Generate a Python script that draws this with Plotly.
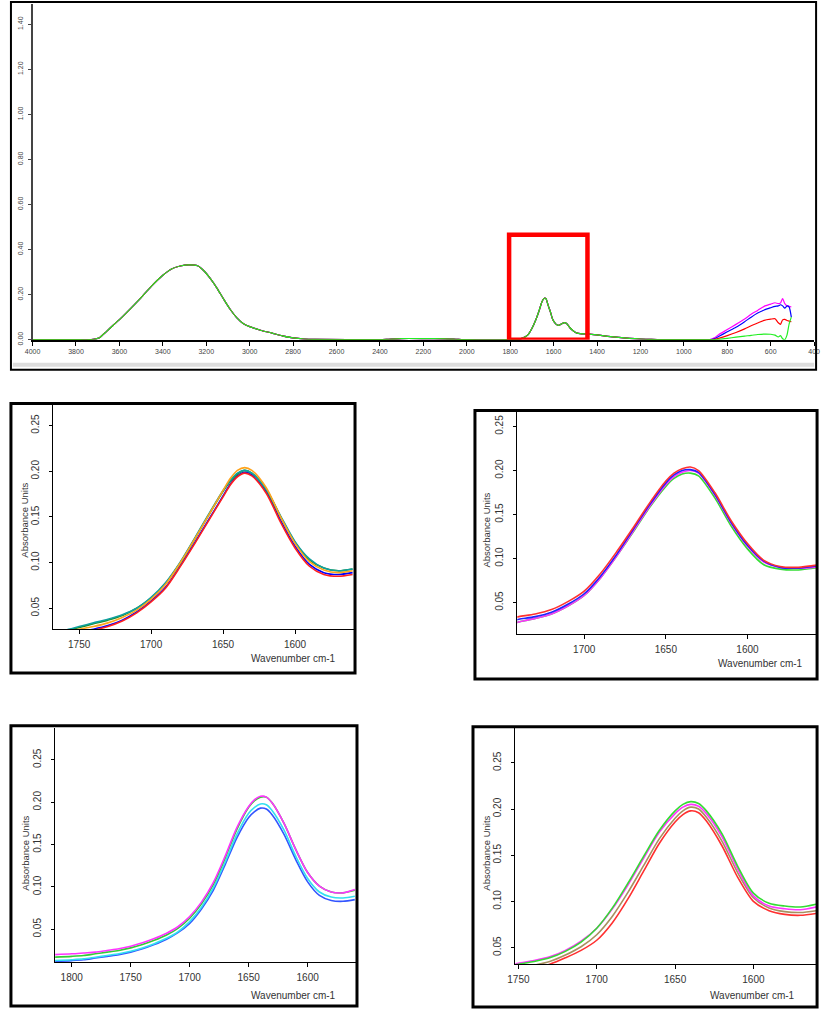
import plotly.graph_objects as go

# ---------------- Overview spectrum (top panel) ----------------
BASE_WN = [4000, 3800, 3740, 3720, 3700, 3690, 3660, 3630, 3600, 3550, 3500, 3450, 3400, 3360, 3320,
           3280, 3240, 3210, 3180, 3150, 3120, 3090, 3060, 3030, 3000, 2950, 2900, 2850, 2800,
           2750, 2700, 2400, 2360, 2300, 2200, 2100, 2050, 2000, 1800, 1760, 1740, 1720, 1700,
           1680, 1665, 1655, 1645, 1640, 1635, 1625, 1615, 1605, 1595, 1585, 1575, 1560, 1550,
           1540, 1525, 1510, 1495, 1470, 1440, 1400, 1350, 1300, 1250, 1200, 1150, 1100, 900]
BASE_ABS = [0, 0, 0.0, 0.002, 0.006, 0.010, 0.036, 0.063, 0.089, 0.137, 0.187, 0.240, 0.286, 0.314, 0.327,
            0.332, 0.328, 0.305, 0.270, 0.228, 0.180, 0.135, 0.098, 0.072, 0.058, 0.042, 0.030, 0.017, 0.008,
            0.003, 0.001, 0, 0.002, 0.005, 0.005, 0.004, 0.002, 0, 0, 0.002, 0.008, 0.020, 0.050,
            0.093, 0.134, 0.165, 0.182, 0.185, 0.182, 0.152, 0.124, 0.092, 0.076, 0.066, 0.064, 0.072, 0.076,
            0.072, 0.053, 0.040, 0.030, 0.026, 0.025, 0.021, 0.015, 0.010, 0.006, 0.003, 0.001, 0, 0]

TAIL_WN = [880, 860, 840, 800, 760, 720, 690, 660, 630, 600, 580, 565, 555, 545, 535, 525, 515, 505]
TAIL_MAGENTA = [0.0, 0.008, 0.022, 0.045, 0.068, 0.092, 0.113, 0.130, 0.148, 0.158, 0.164, 0.160, 0.163, 0.182, 0.160, 0.150, 0.148, 0.145]
TAIL_BLUE = [0.0, 0.004, 0.014, 0.035, 0.055, 0.080, 0.100, 0.118, 0.132, 0.142, 0.148, 0.150, 0.155, 0.150, 0.140, 0.150, 0.145, 0.100]
TAIL_RED = [0.0, 0.001, 0.006, 0.018, 0.032, 0.048, 0.062, 0.074, 0.086, 0.091, 0.093, 0.075, 0.068, 0.088, 0.090, 0.085, 0.082, 0.080]
TAIL_GREEN = [0.0, 0.0, 0.001, 0.006, 0.011, 0.016, 0.019, 0.023, 0.025, 0.024, 0.020, 0.012, 0.018, 0.004, 0.0, 0.020, 0.070, 0.100]

TOP_XTICKS = list(range(4000, 399, -200))
TOP_YTICKS = [0.0, 0.2, 0.4, 0.6, 0.8, 1.0, 1.2, 1.4]
BOX_WN = [1805, 1444]
BOX_ABS = [0.0, 0.466]

# ---------------- Zoomed amide I insets ----------------
W1 = [1770, 1760, 1750, 1740, 1730, 1720, 1710, 1700, 1690, 1680, 1670, 1660, 1650, 1645, 1640, 1635,
      1630, 1620, 1610, 1600, 1590, 1580, 1570, 1560]
I1_BLUE = [0.019, 0.021, 0.024, 0.027, 0.031, 0.037, 0.046, 0.058, 0.073, 0.096, 0.121, 0.147, 0.173, 0.186, 0.195, 0.199,
           0.196, 0.178, 0.146, 0.118, 0.098, 0.089, 0.087, 0.089]
I1_RED = [0.018, 0.020, 0.023, 0.026, 0.030, 0.036, 0.045, 0.057, 0.072, 0.095, 0.120, 0.146, 0.172, 0.185, 0.194, 0.198,
          0.195, 0.176, 0.144, 0.116, 0.096, 0.087, 0.085, 0.087]
I1_GREEN = [0.022, 0.025, 0.029, 0.033, 0.037, 0.042, 0.050, 0.061, 0.077, 0.099, 0.125, 0.152, 0.178, 0.189, 0.197, 0.201,
            0.198, 0.180, 0.150, 0.122, 0.103, 0.094, 0.091, 0.093]
I1_TEAL = [0.023, 0.026, 0.030, 0.034, 0.038, 0.043, 0.050, 0.062, 0.078, 0.100, 0.126, 0.153, 0.179, 0.190, 0.198, 0.201,
           0.198, 0.180, 0.151, 0.123, 0.104, 0.094, 0.091, 0.093]
I1_ORANGE = [0.020, 0.024, 0.027, 0.030, 0.034, 0.040, 0.048, 0.060, 0.076, 0.099, 0.125, 0.152, 0.179, 0.192, 0.201, 0.204,
             0.201, 0.182, 0.150, 0.121, 0.101, 0.092, 0.089, 0.091]

W2 = [1745, 1740, 1730, 1720, 1710, 1700, 1690, 1680, 1670, 1660, 1650, 1645, 1640, 1635, 1630, 1620, 1610,
      1600, 1590, 1580, 1570, 1560, 1555]
I2_RED = [0.032, 0.034, 0.037, 0.042, 0.051, 0.063, 0.083, 0.108, 0.135, 0.163, 0.188, 0.197, 0.202, 0.204, 0.200, 0.175,
          0.143, 0.117, 0.098, 0.091, 0.090, 0.092, 0.093]
I2_BLUE = [0.029, 0.031, 0.034, 0.039, 0.048, 0.060, 0.080, 0.105, 0.133, 0.161, 0.186, 0.195, 0.200, 0.201, 0.198, 0.173,
           0.141, 0.115, 0.097, 0.090, 0.089, 0.091, 0.092]
I2_MAGENTA = [0.026, 0.028, 0.032, 0.037, 0.046, 0.058, 0.078, 0.103, 0.131, 0.159, 0.184, 0.193, 0.198, 0.200, 0.197, 0.172,
              0.140, 0.114, 0.096, 0.090, 0.089, 0.090, 0.091]
I2_GREEN = [0.026, 0.028, 0.032, 0.037, 0.046, 0.058, 0.078, 0.103, 0.130, 0.158, 0.182, 0.191, 0.196, 0.197, 0.194, 0.169,
            0.137, 0.111, 0.093, 0.088, 0.087, 0.089, 0.090]

W3 = [1815, 1800, 1790, 1780, 1770, 1760, 1750, 1740, 1730, 1720, 1710, 1700, 1690, 1680, 1670, 1660, 1650,
      1645, 1640, 1635, 1630, 1620, 1610, 1600, 1590, 1580, 1570, 1560]
I3_MAGENTA = [0.020, 0.021, 0.022, 0.023, 0.025, 0.027, 0.030, 0.034, 0.039, 0.045, 0.053, 0.065, 0.082, 0.105, 0.136, 0.170,
              0.195, 0.203, 0.207, 0.206, 0.199, 0.175, 0.144, 0.117, 0.101, 0.094, 0.093, 0.097]
I3_GREEN = [0.017, 0.018, 0.019, 0.021, 0.023, 0.025, 0.028, 0.032, 0.037, 0.043, 0.051, 0.063, 0.080, 0.103, 0.134, 0.168,
            0.194, 0.202, 0.206, 0.206, 0.199, 0.175, 0.144, 0.117, 0.101, 0.094, 0.093, 0.096]
I3_CYAN = [0.013, 0.014, 0.015, 0.017, 0.019, 0.021, 0.024, 0.028, 0.033, 0.039, 0.047, 0.059, 0.076, 0.099, 0.129, 0.162,
           0.187, 0.194, 0.198, 0.197, 0.190, 0.167, 0.136, 0.110, 0.094, 0.088, 0.087, 0.089]
I3_BLUE = [0.012, 0.013, 0.014, 0.016, 0.018, 0.020, 0.023, 0.027, 0.032, 0.038, 0.046, 0.057, 0.074, 0.096, 0.126, 0.158,
           0.182, 0.189, 0.193, 0.192, 0.185, 0.162, 0.132, 0.106, 0.090, 0.084, 0.083, 0.085]

W4 = [1755, 1750, 1740, 1730, 1720, 1710, 1700, 1690, 1680, 1670, 1660, 1650, 1645, 1640, 1635, 1630, 1620,
      1610, 1600, 1590, 1580, 1570, 1560]
I4_GREEN = [0.030, 0.032, 0.035, 0.039, 0.046, 0.056, 0.071, 0.093, 0.120, 0.149, 0.177, 0.198, 0.205, 0.208, 0.206, 0.198,
            0.173, 0.138, 0.109, 0.098, 0.095, 0.094, 0.097]
I4_MAGENTA = [0.031, 0.033, 0.036, 0.040, 0.047, 0.057, 0.071, 0.092, 0.118, 0.147, 0.175, 0.195, 0.202, 0.205, 0.203, 0.195,
              0.170, 0.135, 0.106, 0.095, 0.092, 0.091, 0.094]
I4_OLIVE = [0.026, 0.028, 0.031, 0.035, 0.042, 0.051, 0.064, 0.084, 0.110, 0.139, 0.168, 0.190, 0.198, 0.202, 0.200, 0.191,
            0.165, 0.131, 0.104, 0.093, 0.089, 0.088, 0.090]
I4_RED = [0.022, 0.024, 0.027, 0.032, 0.039, 0.047, 0.058, 0.077, 0.103, 0.133, 0.163, 0.186, 0.194, 0.198, 0.196, 0.187,
          0.160, 0.126, 0.100, 0.090, 0.086, 0.085, 0.087]

INSET_YTICKS = [0.05, 0.10, 0.15, 0.20, 0.25]
I1_XTICKS = [1750, 1700, 1650, 1600]
I2_XTICKS = [1700, 1650, 1600]
I3_XTICKS = [1800, 1750, 1700, 1650, 1600]
I4_XTICKS = [1750, 1700, 1650, 1600]

X_TITLE = "Wavenumber cm-1"
Y_TITLE = "Absorbance Units"

# ---------------- Figure ----------------
W, H = 827, 1018


def px(x):
    return x / W


def py(y):
    return 1 - y / H


fig = go.Figure()

# top overview traces
tops = [("#FF00FF", TAIL_MAGENTA), ("#0000FF", TAIL_BLUE), ("#FF0000", TAIL_RED), ("#22EE22", TAIL_GREEN)]
for col, tail in tops:
    fig.add_trace(go.Scatter(x=BASE_WN + TAIL_WN, y=BASE_ABS + tail, mode="lines",
                             line=dict(color=col, width=1.2, shape="spline", smoothing=0.6),
                             xaxis="x", yaxis="y", showlegend=False, hoverinfo="skip"))

insets = [
    ("2", W1, [("#0000FF", I1_BLUE), ("#FF2020", I1_RED), ("#1E8C1E", I1_GREEN), ("#10A0A0", I1_TEAL), ("#FFA31A", I1_ORANGE)]),
    ("3", W2, [("#33DD33", I2_GREEN), ("#FF33FF", I2_MAGENTA), ("#2020FF", I2_BLUE), ("#FF3030", I2_RED)]),
    ("4", W3, [("#3355FF", I3_BLUE), ("#33E0F0", I3_CYAN), ("#33CC33", I3_GREEN), ("#FF33FF", I3_MAGENTA)]),
    ("5", W4, [("#FF3030", I4_RED), ("#A89060", I4_OLIVE), ("#FF33FF", I4_MAGENTA), ("#33DD33", I4_GREEN)]),
]
for k, wn, series in insets:
    for col, vals in series:
        fig.add_trace(go.Scatter(x=wn, y=vals, mode="lines",
                                 line=dict(color=col, width=1.6, shape="spline", smoothing=0.8),
                                 xaxis="x" + k, yaxis="y" + k, showlegend=False, hoverinfo="skip"))

tickfont_small = dict(family="Arial", size=7, color="#444")
layout = dict(
    width=W, height=H, margin=dict(l=0, r=0, t=0, b=0),
    paper_bgcolor="white", plot_bgcolor="white",
    xaxis=dict(domain=[px(25), px(820)], range=[4000, 400], tickvals=TOP_XTICKS,
               ticktext=[str(v) for v in TOP_XTICKS], showline=True, linecolor="black", linewidth=2,
               ticks="outside", ticklen=4, tickcolor="black", tickfont=tickfont_small,
               showgrid=False, zeroline=False, anchor="y"),
    yaxis=dict(domain=[py(341.7), py(4)], range=[0, 1.49], tickvals=TOP_YTICKS,
               ticktext=["%.2f" % v for v in TOP_YTICKS], showline=True, linecolor="#444", linewidth=1.5,
               ticks="outside", ticklen=3, tickcolor="#444", tickfont=tickfont_small, tickangle=-90,
               ticklabelstandoff=2, showgrid=False, zeroline=False, anchor="x"),
)

inset_geo = {
    "2": (46, 352, 407, 633, [1768, 1559], [0.027, 0.273], I1_XTICKS),
    "3": (518, 822, 414, 638, [1741, 1558], [0.014, 0.267], I2_XTICKS),
    "4": (48, 354, 732, 968, [1814, 1559], [0.011, 0.288], I3_XTICKS),
    "5": (516, 822, 732, 970, [1752, 1560], [0.032, 0.288], I4_XTICKS),
}
tickfont_in = dict(family="Arial", size=10, color="#333")
for k, (x0, x1, y0, y1, xr, yr, xt) in inset_geo.items():
    layout["xaxis" + k] = dict(domain=[px(x0), px(x1)], range=xr, tickvals=xt, ticktext=[str(v) for v in xt],
                               showline=True, linecolor="black", linewidth=1, ticks="outside", ticklen=4,
                               tickcolor="black", tickfont=tickfont_in, showgrid=False, zeroline=False,
                               ticklabelstandoff=2, anchor="y" + k)
    layout["yaxis" + k] = dict(domain=[py(y1), py(y0)], range=yr, tickvals=INSET_YTICKS,
                               ticktext=["%.2f" % v for v in INSET_YTICKS], showline=True, linecolor="black",
                               linewidth=1, ticks="outside", ticklen=3, tickcolor="black", tickfont=tickfont_in,
                               tickangle=-90, ticklabelstandoff=6, showgrid=False, zeroline=False,
                               anchor="x" + k)
fig.update_layout(**layout)

# red highlight box on the overview (data coordinates)
fig.add_shape(type="rect", xref="x", yref="y", x0=BOX_WN[0], x1=BOX_WN[1], y0=BOX_ABS[0], y1=BOX_ABS[1],
              line=dict(color="#FF0000", width=4.5), fillcolor="rgba(0,0,0,0)")

# panel frames
frames = [(3, 2, 822, 372, 2), (3, 406, 353, 677, 3), (475, 413, 823, 683, 3),
          (3, 730, 355, 1012, 3), (473, 731, 823, 1013, 3)]
for (a, b, c, d, w) in frames:
    fig.add_shape(type="rect", xref="paper", yref="paper", x0=px(a), x1=px(c), y0=py(d), y1=py(b),
                  line=dict(color="black", width=w), fillcolor="rgba(0,0,0,0)", layer="above")
# light grey scroll band at bottom of overview
fig.add_shape(type="rect", xref="paper", yref="paper", x0=px(5), x1=px(820), y0=py(369), y1=py(365),
              line=dict(width=0), fillcolor="#DDDDDD", layer="below")

# axis titles
titles = [(17, 523, 290, 662), (487, 533, 765, 667), (18, 858, 290, 1001), (487, 858, 757, 1001)]
for (yx, yy, xx, xy) in titles:
    fig.add_annotation(x=px(yx), y=py(yy), xref="paper", yref="paper", text=Y_TITLE, textangle=-90,
                       showarrow=False, xanchor="center", yanchor="middle",
                       font=dict(family="Arial", size=9.5, color="#333"))
    fig.add_annotation(x=px(xx), y=py(xy), xref="paper", yref="paper", text=X_TITLE,
                       showarrow=False, xanchor="center", yanchor="middle",
                       font=dict(family="Arial", size=10, color="#333"))

fig.write_html("out.html", config={"displayModeBar": False, "staticPlot": True},
               post_script="document.body.style.margin='0px';document.body.style.padding='0px';"
                           "document.body.style.overflow='hidden';")
